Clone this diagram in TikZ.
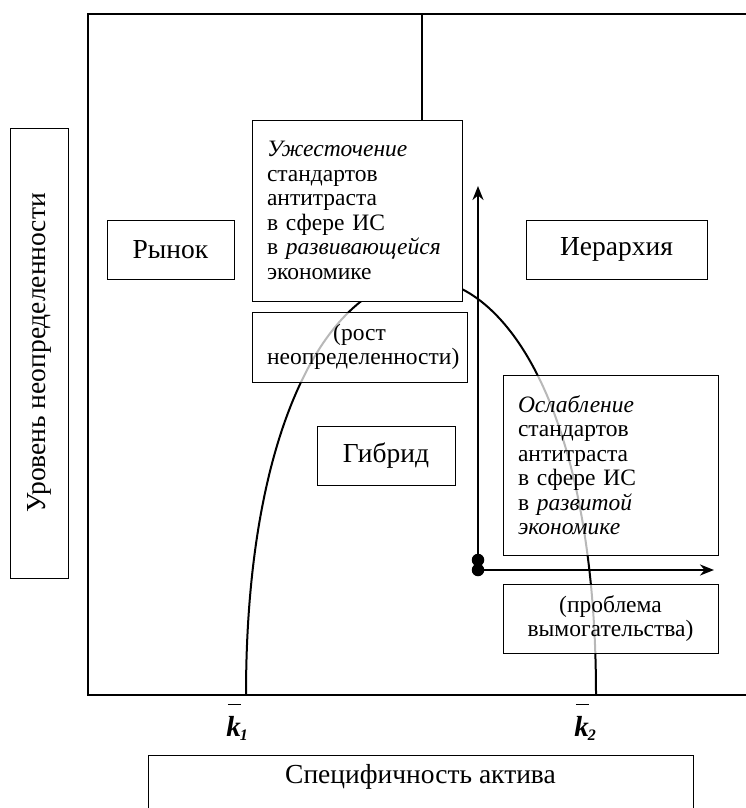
\documentclass[tikz,border=0pt]{standalone}
\usepackage{fontspec}
\setmainfont{Liberation Serif}
\usetikzlibrary{arrows.meta}
\newcommand{\kbar}[1]{{\bfseries\itshape\fontsize{29}{29}\selectfont
  \vbox{\hbox{\kern1.5pt\vrule width 13pt height 1.8pt}\kern2pt\hbox{k}}%
  \kern-1pt\raisebox{-4pt}{\fontsize{16}{16}\selectfont #1}}}

\begin{document}
\begin{tikzpicture}[x=1pt, y=-1pt,
  frame/.style={line width=2.4pt, line join=miter},
  bigbox/.style={draw, line width=0.9pt, fill=white, font=\fontsize{27.5}{30}\selectfont, inner sep=0pt},
  txtbox/.style={draw, line width=0.9pt, fill=white, fill opacity=0.72, text opacity=1, font=\fontsize{23.5}{24.5}\selectfont, inner xsep=15pt, inner ysep=0pt},
  curve/.style={line width=2pt},
  arr/.style={line width=2.6pt, -{Stealth[length=14pt, width=11pt]}},
  dot/.style={circle, fill, inner sep=0pt, minimum size=12.5pt}]
\useasboundingbox (0,0) rectangle (746,808);
% frame, open on the right
\coordinate (tr) at (746,14);
\coordinate (br) at (746,695);
\draw[frame] (tr) -| (88,695) -- (br);
% boundary between hybrid and the two other forms
\draw[curve] (246,695) .. controls (246,140) and (596,140) .. (596,695);
\node[bigbox, minimum width=127, minimum height=59] (rynok) at (170.5,249.5) {Рынок};
\node[bigbox, minimum width=181, minimum height=59] (ierarh) at (616.5,249.5) {Иерархия};
\node[bigbox, minimum width=138, minimum height=59] (gibrid) at (386,455.5) {Гибрид};
\node[txtbox, fill opacity=1, text width=180, align=left, minimum height=181] (uzh) at (357,210.5)
  {\textit{Ужесточение}\\стандартов\\антитраста\\в сфере ИС\\в \textit{развивающейся}\\экономике};
\node[txtbox, text width=185, align=center, minimum height=70] (rost) at (359.5,347)
  {(рост\\неопределенности)};
\node[txtbox, text width=185, align=left, minimum height=180] (osl) at (610.5,465)
  {\textit{Ослабление}\\стандартов\\антитраста\\в сфере ИС\\в \textit{развитой}\\\textit{экономике}};
\node[txtbox, text width=185, align=center, minimum height=69] (probl) at (610.5,618.5)
  {(проблема\\вымогательства)};
\coordinate (top) at (422,14);
\draw[line width=2pt] (top) -- (top |- uzh.north);
% moves
\node[dot] (d1) at (478,560) {};
\node[dot] (d2) at (478,570) {};
\coordinate (vtop) at (478,186);
\coordinate (hend) at (714,570);
\draw[arr] (d1.center) -- (vtop);
\draw[arr] (d2.center) -- (hend);
\node (k1) at (237,722) {\kbar{1}};
\node (k2) at (585,722) {\kbar{2}};
\node[bigbox, rotate=90, minimum width=450, minimum height=58] (ylab) at (39,353) {Уровень неопределенности};
\node[bigbox, anchor=north, minimum width=545, inner ysep=8pt, text height=20pt, text depth=50pt] (xlab) at (420.5,755) {Специфичность актива};
\end{tikzpicture}
\end{document}
